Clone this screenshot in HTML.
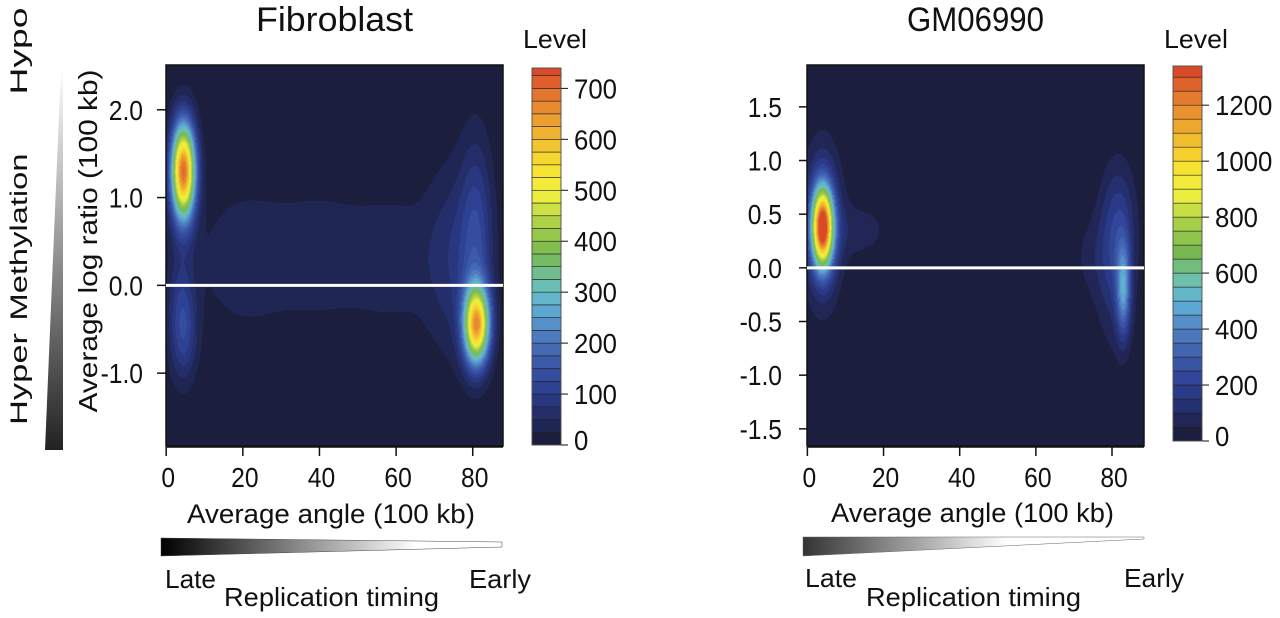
<!DOCTYPE html>
<html><head><meta charset="utf-8">
<style>
html,body{margin:0;padding:0;background:#fff;}
#root{position:relative;width:1280px;height:618px;overflow:hidden;}
canvas{position:absolute;}
svg{position:absolute;left:0;top:0;}
text{font-family:"Liberation Sans",sans-serif;fill:#111;}
</style></head>
<body>
<div id="root">
<canvas id="hmL"></canvas>
<canvas id="hmR"></canvas>
<svg id="svg" width="1280" height="618">
<defs>
<linearGradient id="gV" x1="0" y1="1" x2="0" y2="0"><stop offset="0" stop-color="#222"/><stop offset="1" stop-color="#fff"/></linearGradient>
<linearGradient id="gH" x1="0" y1="0" x2="1" y2="0"><stop offset="0" stop-color="#000"/><stop offset="0.75" stop-color="#fff"/><stop offset="1" stop-color="#fff"/></linearGradient>
<linearGradient id="gH2" x1="0" y1="0" x2="1" y2="0"><stop offset="0" stop-color="#333"/><stop offset="0.6" stop-color="#fff"/><stop offset="1" stop-color="#fff"/></linearGradient>
</defs>
<g id="layer"></g>
</svg>
</div>
<script>
// ---------- data ----------
const leftTitle = "Fibroblast";
const rightTitle = "GM06990";
const leftYTicks = [2.0, 1.0, 0.0, -1.0];
const leftYTickLabels = ["2.0", "1.0", "0.0", "-1.0"];
const rightYTicks = [1.5, 1.0, 0.5, 0.0, -0.5, -1.0, -1.5];
const rightYTickLabels = ["1.5", "1.0", "0.5", "0.0", "-0.5", "-1.0", "-1.5"];
const xTicks = [0, 20, 40, 60, 80];
const leftLevelTicks = [0, 100, 200, 300, 400, 500, 600, 700];
const rightLevelTicks = [0, 200, 400, 600, 800, 1000, 1200];
const leftLevelMax = 740;
const rightLevelMax = 1340;
const leftBandStep = 25;
const rightBandStep = 50;
// density blobs: centers (angle, log ratio), spreads, peak level
const leftBlobX = [4.5, 81, 81, 4, 20, 40, 60, 75, 5];
const leftBlobY = [1.3, -0.45, 0.5, -0.3, 0.3, 0.35, 0.3, 0.3, -0.6];
const leftBlobSX = [2.2, 2.3, 3, 2.5, 9, 9, 9, 5, 2.5];
const leftBlobSY = [0.38, 0.3, 0.8, 0.5, 0.6, 0.6, 0.6, 0.8, 0.35];
const leftBlobPeak = [700, 600, 110, 90, 42, 36, 38, 60, 50];
const rightBlobX = [4, 4, 83, 81, 14, 75, 82];
const rightBlobY = [0.38, 0.4, -0.2, 0.05, 0.35, 0.1, 0.5];
const rightBlobSX = [1.9, 3.5, 1.3, 3.5, 6, 5, 3];
const rightBlobSY = [0.25, 0.5, 0.3, 0.55, 0.2, 0.3, 0.35];
const rightBlobPeak = [1250, 230, 380, 140, 70, 55, 90];

// ---------- layout ----------
const L = {x0:166, x1:503, y0:65, y1:446, xmin:-0.05, xmax:87.9, ymin:-1.83, ymax:2.51,
  cb:{x:532,w:29,y0:68,y1:445}, title:leftTitle, titleLen:157, yt:leftYTicks, ytl:leftYTickLabels,
  lt:leftLevelTicks, lmax:leftLevelMax, step:leftBandStep, tickLen:9, labGap:23,
  bx:leftBlobX, by:leftBlobY, bsx:leftBlobSX, bsy:leftBlobSY, bp:leftBlobPeak, cid:"hmL", key:"fibroblast"};
const R = {x0:807, x1:1144, y0:65, y1:446, xmin:-0.1, xmax:88.4, ymin:-1.66, ymax:1.89,
  cb:{x:1173,w:29,y0:66,y1:441}, title:rightTitle, titleLen:137, yt:rightYTicks, ytl:rightYTickLabels,
  lt:rightLevelTicks, lmax:rightLevelMax, step:rightBandStep, tickLen:8, labGap:25,
  bx:rightBlobX, by:rightBlobY, bsx:rightBlobSX, bsy:rightBlobSY, bp:rightBlobPeak, cid:"hmR", key:"gm06990"};

const stops = [[0,"#1c1e3e"],[0.05,"#22295e"],[0.12,"#2b3b8c"],[0.2,"#3a56a8"],[0.28,"#4f7cc0"],[0.36,"#5fb0d8"],[0.42,"#6cc0b0"],[0.5,"#78b850"],[0.58,"#a8d048"],[0.66,"#f0f040"],[0.74,"#f8e030"],[0.82,"#f0b830"],[0.9,"#e88830"],[1,"#d84a28"]];
function hex(h){return [parseInt(h.substr(1,2),16),parseInt(h.substr(3,2),16),parseInt(h.substr(5,2),16)];}
function cmap(t){t=Math.max(0,Math.min(1,t));for(let i=1;i<stops.length;i++){if(t<=stops[i][0]){const a=stops[i-1],b=stops[i];const f=(t-a[0])/(b[0]-a[0]);const ca=hex(a[1]),cb=hex(b[1]);return ca.map((v,k)=>Math.round(v+(cb[k]-v)*f));}}return hex(stops[stops.length-1][1]);}

const NS="http://www.w3.org/2000/svg";
const layer=document.getElementById("layer");
function mk(tag,attrs,txt){const e=document.createElementNS(NS,tag);for(const k in attrs)e.setAttribute(k,attrs[k]);if(txt!==undefined)e.textContent=txt;layer.appendChild(e);return e;}
function T(x,y,str,size,anchor,sxs){
  return mk("text",{x:0,y:0,"text-anchor":anchor||"start","font-size":size,transform:"translate("+x+","+y+") scale("+(sxs||1)+",1)"},str);
}
function TL(x,y,str,size,anchor,len,rot){
  const a={x:0,y:0,"text-anchor":anchor||"start","font-size":size,textLength:len,lengthAdjust:"spacingAndGlyphs",transform:"translate("+x+","+y+")"+(rot?" rotate(-90)":"")};
  return mk("text",a,str);
}

function drawPanel(P){
  const sx=v=>P.x0+(v-P.xmin)/(P.xmax-P.xmin)*(P.x1-P.x0);
  const sy=v=>P.y1-(v-P.ymin)/(P.ymax-P.ymin)*(P.y1-P.y0);
  const nb=Math.ceil(P.lmax/P.step);
  const c=document.getElementById(P.cid);
  const W=P.x1-P.x0,H=P.y1-P.y0;
  c.width=W;c.height=H;c.style.left=P.x0+"px";c.style.top=P.y0+"px";
  const ctx=c.getContext("2d");const img=ctx.createImageData(W,H);
  for(let j=0;j<H;j++){const yv=P.ymax-(j+0.5)/H*(P.ymax-P.ymin);
    for(let i=0;i<W;i++){const xv=P.xmin+(i+0.5)/W*(P.xmax-P.xmin);
      let d=0;for(let b=0;b<P.bx.length;b++){const dx=(xv-P.bx[b])/P.bsx[b],dy=(yv-P.by[b])/P.bsy[b];d+=P.bp[b]*Math.exp(-0.5*(dx*dx+dy*dy));}
      const band=Math.min(nb-1,Math.floor(d/P.step));
      const col=cmap(band/(nb-1));const o=(j*W+i)*4;
      img.data[o]=col[0];img.data[o+1]=col[1];img.data[o+2]=col[2];img.data[o+3]=255;}}
  ctx.putImageData(img,0,0);
  let e=mk("rect",{x:P.x0,y:P.y0,width:W,height:H,fill:"none",stroke:"#111","stroke-width":1.5});
  
  
  e=mk("line",{x1:P.x0,x2:P.x1,y1:sy(0),y2:sy(0),stroke:"#fff","stroke-width":3});
  
  
  e=TL((P.x0+P.x1)/2,31,P.title,34,"middle",P.titleLen);
  
  
  P.yt.forEach((v,k)=>{
    const t=mk("line",{x1:P.x0-P.tickLen,x2:P.x0,y1:sy(v),y2:sy(v),stroke:"#111","stroke-width":1.5});
    
    
    const l=T(P.x0-P.labGap,sy(v)+10,P.ytl[k],28,"end",0.88);
    
    
  });
  e=mk("line",{x1:sx(0),x2:P.x1,y1:P.y1+1,y2:P.y1+1,stroke:"#111","stroke-width":1.5});
  
  
  xTicks.forEach(v=>{
    const t=mk("line",{x1:sx(v),x2:sx(v),y1:P.y1+1,y2:P.y1+10,stroke:"#111","stroke-width":1.5});
    
    
    const l=T(sx(v)+2,P.y1+41,String(v),28,"middle",0.88);
    
    
  });
  const cb=P.cb;const bh=(cb.y1-cb.y0)/(P.lmax/P.step);
  for(let b=0;b<nb;b++){const top=Math.max(cb.y0,cb.y1-(b+1)*bh);const col=cmap(b/(nb-1));
    const r=mk("rect",{x:cb.x,y:top,width:cb.w,height:cb.y1-(b*bh)-top,fill:"rgb("+col.join(",")+")",stroke:"#222","stroke-width":0.6});
    
    }
  e=mk("rect",{x:cb.x,y:cb.y0,width:cb.w,height:cb.y1-cb.y0,fill:"none",stroke:"#555","stroke-width":0.8});
  
  
  P.lt.forEach(v=>{const y=cb.y1-v/P.step*bh;
    const t=mk("line",{x1:cb.x+cb.w,x2:cb.x+cb.w+7,y1:y,y2:y,stroke:"#111","stroke-width":1});
    
    
    const l=T(cb.x+cb.w+13,Math.min(y+10,cb.y1+5),String(v),28,"start",0.92);
    
    });
  e=TL(cb.x-9,48,"Level",26,"start",64);
  
  
}
drawPanel(L);drawPanel(R);

let e;
e=TL(97,241,"Average log ratio (100 kb)",26,"middle",343,true);


e=TL(27,237,"Methylation",24,"middle",167,true);


e=TL(27,51,"Hypo",24,"middle",87,true);


e=TL(27,379,"Hyper",24,"middle",92,true);


e=mk("polygon",{points:"61,66 63,66 63,450 45,450",fill:"url(#gV)"});



e=TL(331,523,"Average angle  (100 kb)",27,"middle",288);


e=mk("polygon",{points:"161,538 502,542 502,547 161,556",fill:"url(#gH)",stroke:"#444","stroke-width":0.5});


e=TL(165,588,"Late",26,"start",51);


e=TL(469,588,"Early",26,"start",62);


e=TL(224,606,"Replication timing",26,"start",215);


e=TL(831,522,"Average angle (100 kb)",27,"start",283);


e=mk("polygon",{points:"803,537 1144,537 1144,539 803,556",fill:"url(#gH2)",stroke:"#666","stroke-width":0.5});


e=TL(805,587,"Late",26,"start",52);


e=TL(1124,587,"Early",26,"start",60);


e=TL(866,606,"Replication timing",26,"start",215);


</script>
</body></html>
